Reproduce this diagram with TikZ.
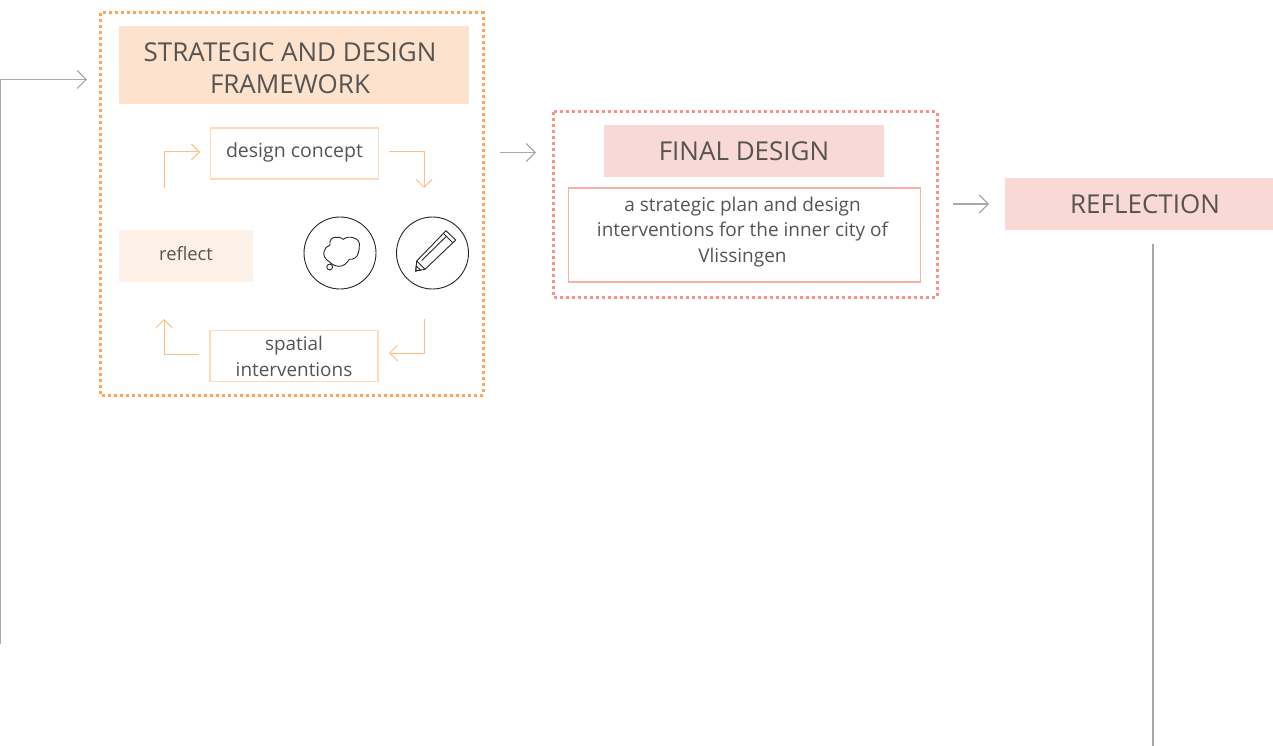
\documentclass[tikz,border=0pt]{standalone}
\usepackage{fontspec}
\setmainfont{Open Sans}
\usetikzlibrary{arrows.meta}
\definecolor{orangeline}{HTML}{FFBE85}
\definecolor{orangebox}{HTML}{FFD9B8}
\definecolor{orangedot}{HTML}{FFA45A}
\definecolor{orangefill}{HTML}{FDE3CE}
\definecolor{orangepale}{HTML}{FDF0E6}
\definecolor{pinkdot}{HTML}{F9938A}
\definecolor{pinkfill}{HTML}{F9D9D5}
\definecolor{pinkline}{HTML}{F9B0A6}
\definecolor{greyline}{HTML}{A6A8AB}
\definecolor{textcol}{HTML}{575351}
\tikzset{
    pxbox/.style={inner sep=0pt, minimum width=#1},
    titletext/.style={inner sep=0pt, align=center, text=textcol, font=\fontsize{26}{32.5}\selectfont},
    smalltext/.style={inner sep=0pt, align=center, text=textcol, font=\fontsize{#1}{25.5}\selectfont},
    dotbox/.style={line width=3pt, dash pattern=on 2.8pt off 3.2pt},
    greyarrow/.style={draw=greyline, line width=1.1pt, -{Straight Barb[length=9pt,width=18pt,line width=1.1pt]}},
    orangearrow/.style={draw=orangeline, line width=1pt, -{Straight Barb[length=8pt,width=16pt,line width=1pt]}},
    iconline/.style={draw=black!85, line width=0.9pt}
}
\begin{document}
\begin{tikzpicture}[x=1pt,y=-1pt]
    \useasboundingbox (0,0) rectangle (1273,746);

    % dotted frames
    \draw[dotbox,orangedot] (100,13) rectangle (483,395);
    \draw[dotbox,pinkdot] (553,112) rectangle (937,297);

    % title boxes
    \node[pxbox=350pt, fill=orangefill, minimum height=78pt] (frameworkbox) at (294,65) {};
    \node[pxbox=280pt, fill=pinkfill, minimum height=52pt] (finalbox) at (744,151) {};
    \node[pxbox=268pt, fill=pinkfill, minimum height=52pt] (reflectionbox) at (1139,204) {};

    % title texts
    \node[titletext] (framework) at (290,68) {STRATEGIC AND DESIGN\\FRAMEWORK};
    \node[titletext] (finaldesign) at (744,151) {FINAL DESIGN};
    \node[titletext] (reflection) at (1145,204) {REFLECTION};

    % cycle boxes
    \node[pxbox=168pt, draw=orangebox, line width=1.2pt, minimum height=51pt] (conceptbox) at (294.5,153.5) {};
    \node[pxbox=134pt, fill=orangepale, minimum height=52pt] (reflectbox) at (186,256) {};
    \node[pxbox=168pt, draw=orangebox, line width=1.2pt, minimum height=51pt] (spatialbox) at (294,356) {};
    \node[pxbox=352pt, draw=pinkline, line width=1.2pt, minimum height=94pt] (planbox) at (744.5,235) {};

    % box texts
    \node[smalltext=19.5] (concept) at (294.5,152.5) {design concept};
    \node[smalltext=18.3] (reflect) at (186,254) {reflect};
    \node[smalltext=18.9] (spatial) at (294,356.5) {spatial\\interventions};
    \node[smalltext=19] (plan) at (742.5,232) {a strategic plan and design\\interventions for the inner city of\\Vlissingen};

    % cycle arrows
    \coordinate (a1) at (164,188);
    \coordinate (a2) at (200,152);
    \coordinate (b1) at (389,152);
    \coordinate (b2) at (424,188);
    \coordinate (c1) at (424,319);
    \coordinate (c2) at (389,353);
    \coordinate (d1) at (199,354);
    \coordinate (d2) at (164,319);
    \draw[orangearrow] (a1) |- (a2);
    \draw[orangearrow] (b1) -| (b2);
    \draw[orangearrow] (c1) |- (c2);
    \draw[orangearrow] (d1) -| (d2);

    % grey arrows
    \coordinate (s1) at (0.5,644);
    \coordinate (s2) at (87,79.5);
    \coordinate (f1) at (500,152.5);
    \coordinate (f2) at (536,152.5);
    \coordinate (r1) at (953,204);
    \coordinate (r2) at (989,204);
    \coordinate (v1) at (1153,244);
    \coordinate (v2) at (1153,746);
    \draw[greyarrow] (s1) |- (s2);
    \draw[greyarrow] (f1) -- (f2);
    \draw[greyarrow] (r1) -- (r2);
    \draw[draw=greyline, line width=1.1pt] (v1) -- (v2);

    % icon circles
    \node[iconline, circle, minimum size=72pt, inner sep=0pt] (thinkicon) at (340,253) {};
    \node[iconline, circle, minimum size=72pt, inner sep=0pt] (penicon) at (432.5,253) {};

    % cloud
    \draw[iconline] (329.3,261.7) .. controls (325,259.5) and (323,255) .. (324,251.7)
        .. controls (324.5,248.5) and (327,246) .. (330,245)
        .. controls (329,240) and (332,237.3) .. (335,237.3)
        .. controls (338,236.5) and (341.5,237.5) .. (343.3,239.3)
        .. controls (346,236.8) and (351,236.8) .. (353.3,237.8)
        .. controls (358,239) and (360,242) .. (359.3,246)
        .. controls (359.3,251) and (358,256) .. (355,258)
        .. controls (353,259.3) and (351,259.5) .. (349.3,259.3)
        .. controls (347,263) and (343.5,266.5) .. (339,266.3)
        .. controls (335,266.3) and (331.5,264) .. (329.3,261.7) -- cycle;
    \draw[iconline] (329.7,267) circle (2.9pt);

    % pencil
    \draw[iconline] (415.7,271) -- (416.7,261) -- (446,230.7) -- (455.7,240) -- (425,269.3) -- cycle;
    \draw[iconline] (416.7,261) -- (425,269.3);
    \draw[iconline] (443.3,233.3) -- (452.7,242.7);
    \draw[iconline] (421.7,260.5) -- (446.7,236);
    \draw[iconline] (415.7,271) -- (416.2,266) -- (420.5,270) -- cycle;
\end{tikzpicture}
\end{document}
